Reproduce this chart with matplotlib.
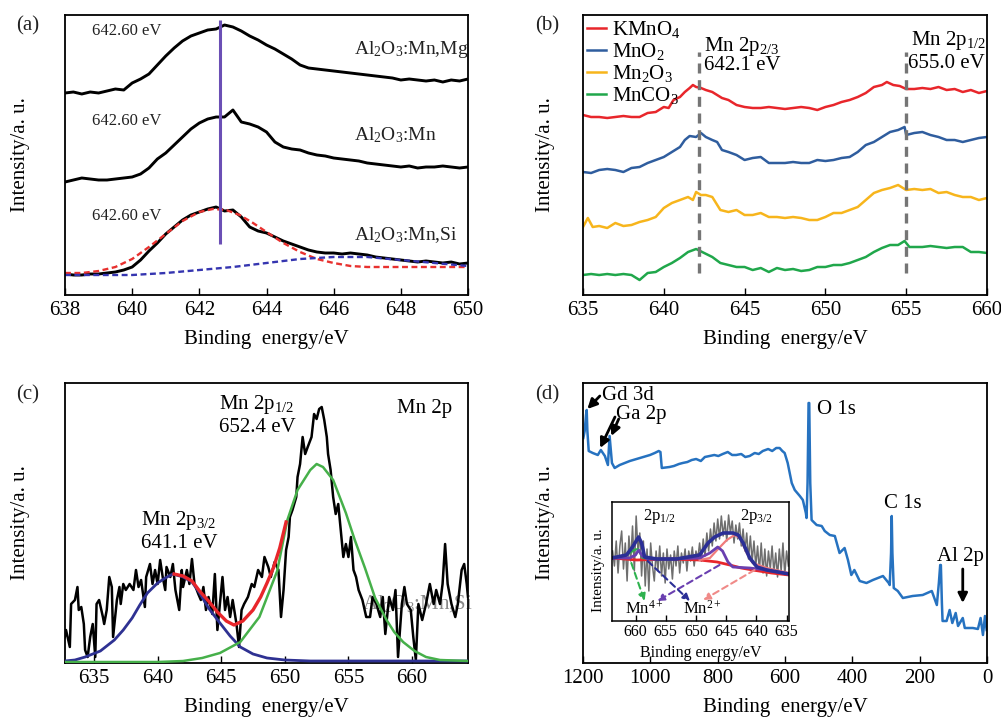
import matplotlib
matplotlib.use('Agg')
import matplotlib.pyplot as plt

plt.rcParams['font.family'] = ['Liberation Serif', 'DejaVu Serif']
plt.rcParams['mathtext.fontset'] = 'custom'
plt.rcParams['mathtext.rm'] = 'Liberation Serif'
plt.rcParams['mathtext.it'] = 'Liberation Serif:italic'

# ---------------- (a) Mn 2p of the three samples ----------------
a_x = [638.00, 638.25, 638.50, 638.75, 639.00, 639.25, 639.50, 639.75, 640.00, 640.25,
       640.50, 640.75, 641.00, 641.25, 641.50, 641.75, 642.00, 642.25, 642.50, 642.75,
       643.00, 643.25, 643.50, 643.75, 644.00, 644.25, 644.50, 644.75, 645.00, 645.25,
       645.50, 645.75, 646.00, 646.25, 646.50, 646.75, 647.00, 647.25, 647.50, 647.75,
       648.00, 648.25, 648.50, 648.75, 649.00, 649.25, 649.50, 649.75, 650.00]
a_mg = [202, 203, 201, 203, 202, 204, 206, 205, 212, 216,
        221, 230, 239, 247, 254, 259, 262, 265, 266, 270,
        268, 264, 259, 255, 250, 246, 241, 236, 230, 227,
        226, 225, 224, 223, 222, 221, 220, 219, 218, 217,
        215, 216, 215, 214, 215, 213, 215, 214, 216]
a_mn = [113, 115, 117, 116, 115, 115, 116, 117, 118, 121,
        127, 136, 142, 150, 158, 166, 172, 176, 178, 178,
        185, 173, 171, 168, 163, 153, 148, 146, 145, 142,
        140, 139, 137, 136, 135, 134, 132, 131, 130, 129,
        128, 129, 127, 128, 128, 129, 128, 127, 128]
a_si = [21, 20, 20, 21, 21, 22, 23, 25, 28, 35,
        44, 52, 61, 68, 75, 80, 83, 86, 88, 84,
        85, 78, 68, 64, 62, 58, 54, 51, 48, 45,
        43, 42, 42, 41, 42, 41, 40, 38, 37, 36,
        35, 34, 33, 34, 33, 32, 33, 31, 32]
a_fit1_x = [638, 638.5, 639, 639.5, 640, 640.5, 641, 641.5, 642, 642.4, 642.8, 643.2,
            643.6, 644, 644.5, 645, 645.5, 646, 646.5, 647, 648, 649, 650]
a_fit1_y = [22, 22, 24, 28, 36, 48, 61, 74, 83, 86, 85, 80,
            72, 63, 52, 43, 36, 32, 29, 28, 28, 28, 28]
a_fit2_x = [638, 639, 640, 641, 642, 643, 644, 645, 645.5, 646, 646.5, 647, 648, 649, 650]
a_fit2_y = [20, 20, 20, 22, 25, 28, 32, 36, 37, 38, 38, 38, 35, 32, 29]
a_peak = 642.63
a_names = ['Al$_2$O$_3$:Mn,Mg', 'Al$_2$O$_3$:Mn', 'Al$_2$O$_3$:Mn,Si']

# ---------------- (b) reference manganese compounds ----------------
b_red_x = [635.0, 635.5, 636.0, 636.5, 637.0, 637.5, 638.0, 638.5, 639.0, 639.5,
           640.0, 640.3, 640.6, 641.0, 641.3, 641.6, 641.8, 642.0, 642.3, 642.6,
           643.0, 643.3, 643.6, 644.0, 644.5, 645.0, 645.5, 646.0, 646.5, 647.0,
           647.5, 648.0, 648.5, 649.0, 649.5, 650.0, 650.5, 651.0, 651.5, 652.0,
           652.5, 653.0, 653.5, 653.8, 654.2, 654.6, 655.0, 655.5, 656.0, 656.5,
           657.0, 657.5, 658.0, 658.5, 659.0, 659.5, 660.0]
b_red_y = [180, 178, 178, 177, 178, 179, 178, 178, 182, 183,
           188, 187, 195, 198, 203, 207, 210, 208, 207, 205,
           203, 200, 197, 195, 190, 188, 187, 187, 188, 187,
           186, 187, 188, 187, 185, 188, 190, 193, 195, 198,
           202, 208, 210, 213, 210, 209, 206, 206, 207, 206,
           208, 205, 206, 203, 205, 202, 204]
b_blue_x = [635.0, 635.5, 636.0, 636.5, 637.0, 637.5, 638.0, 638.5, 639.0, 639.5,
            640.0, 640.5, 641.0, 641.3, 641.6, 642.0, 642.3, 642.6, 643.0, 643.3,
            643.6, 644.0, 644.5, 645.0, 645.5, 646.0, 646.5, 647.0, 647.5, 648.0,
            648.5, 649.0, 649.5, 650.0, 650.5, 651.0, 651.5, 652.0, 652.5, 653.0,
            653.5, 654.0, 654.5, 654.9, 655.0, 655.5, 656.0, 656.5, 657.0, 657.5,
            658.0, 658.5, 659.0, 659.5, 660.0]
b_blue_y = [123, 122, 125, 126, 125, 123, 127, 128, 132, 135,
            138, 143, 148, 155, 159, 158, 162, 158, 155, 153,
            145, 143, 140, 135, 137, 138, 132, 132, 132, 133,
            132, 132, 135, 134, 135, 137, 138, 143, 150, 153,
            158, 163, 165, 168, 160, 162, 163, 160, 158, 155,
            155, 153, 155, 157, 158]
b_yel_x = [635.0, 635.3, 635.6, 636.0, 636.5, 637.0, 637.5, 638.0, 638.5, 639.0,
           639.5, 640.0, 640.5, 641.0, 641.5, 641.8, 642.0, 642.3, 642.6, 643.0,
           643.5, 644.0, 644.5, 645.0, 645.5, 646.0, 646.5, 647.0, 647.5, 648.0,
           648.5, 649.0, 649.5, 650.0, 650.5, 651.0, 651.5, 652.0, 652.5, 653.0,
           653.5, 654.0, 654.5, 655.0, 655.5, 656.0, 656.5, 657.0, 657.5, 658.0,
           658.5, 659.0, 659.5, 660.0]
b_yel_y = [68, 77, 68, 69, 67, 72, 69, 70, 73, 75,
           78, 87, 92, 95, 98, 95, 103, 100, 100, 98,
           85, 83, 85, 80, 80, 82, 78, 78, 77, 78,
           77, 75, 75, 78, 82, 82, 85, 88, 95, 102,
           105, 107, 110, 105, 106, 105, 106, 102, 103, 100,
           98, 98, 95, 97]
b_grn_x = [635.0, 635.5, 636.0, 636.5, 637.0, 637.5, 638.0, 638.5, 639.0, 639.5,
           640.0, 640.5, 641.0, 641.5, 642.0, 642.5, 643.0, 643.5, 644.0, 644.5,
           645.0, 645.5, 646.0, 646.5, 647.0, 647.5, 648.0, 648.5, 649.0, 649.5,
           650.0, 650.5, 651.0, 651.5, 652.0, 652.5, 653.0, 653.5, 654.0, 654.5,
           654.9, 655.2, 655.5, 656.0, 656.5, 657.0, 657.5, 658.0, 658.5, 659.0,
           659.5, 660.0]
b_grn_y = [20, 21, 20, 21, 20, 21, 20, 15, 22, 23,
           28, 32, 37, 43, 46, 42, 38, 32, 30, 28,
           28, 25, 27, 23, 27, 25, 26, 24, 25, 28,
           28, 30, 30, 32, 35, 38, 43, 47, 50, 50,
           54, 48, 48, 48, 49, 48, 47, 48, 48, 43,
           43, 42]
b_labels = ['KMnO$_4$', 'MnO$_2$', 'Mn$_2$O$_3$', 'MnCO$_3$']
b_peaks = [642.2, 655.0]

# ---------------- (c) Mn 2p fit ----------------
c_x = [632.7, 632.8, 633.1, 633.2, 633.5, 633.7, 633.8, 634.0, 634.2, 634.3,
       634.5, 634.7, 634.9, 635.1, 635.2, 635.4, 635.7, 635.8, 636.0, 636.2,
       636.4, 636.5, 636.8, 637.0, 637.1, 637.3, 637.5, 637.8, 638.1, 638.3,
       638.5, 638.7, 639.0, 639.1, 639.4, 639.6, 639.8, 640.0, 640.2, 640.4,
       640.6, 640.7, 641.0, 641.2, 641.4, 641.7, 641.9, 642.0, 642.3, 642.5,
       642.7, 642.9, 643.2, 643.4, 643.6, 643.8, 644.0, 644.3, 644.5, 644.7,
       644.9, 645.1, 645.3, 645.5, 645.7, 645.9, 646.2, 646.4, 646.6, 646.8,
       647.1, 647.4, 647.6, 647.9, 648.2, 648.4, 648.7, 648.9, 649.2, 649.5,
       649.7, 649.9, 650.1, 650.3, 650.4, 650.6, 650.9, 651.0, 651.2, 651.4,
       651.6, 651.8, 652.1, 652.3, 652.5, 652.7, 652.9, 653.1, 653.3, 653.4,
       653.6, 653.8, 654.0, 654.2, 654.4, 654.6, 654.8, 655.0, 655.2, 655.4,
       655.6, 655.8, 656.1, 656.4, 656.7, 656.9, 657.2, 657.5, 657.7, 657.9,
       658.2, 658.5, 658.7, 658.9, 659.2, 659.4, 659.6, 659.9, 660.1, 660.3,
       660.5, 660.8, 661.1, 661.4, 661.7, 661.9, 662.2, 662.4, 662.6, 662.8,
       663.1, 663.4, 663.6, 663.9, 664.1, 664.3, 664.4]
c_y = [26, 33, 16, 59, 63, 76, 53, 56, 39, 13,
       6, 26, 39, 6, 59, 63, 46, 39, 53, 86,
       76, 26, 63, 76, 59, 79, 73, 79, 73, 93,
       76, 83, 56, 86, 99, 79, 93, 79, 103, 86,
       73, 96, 86, 99, 73, 53, 93, 76, 93, 79,
       104, 79, 69, 63, 76, 53, 66, 49, 89, 33,
       59, 86, 53, 66, 46, 63, 39, 16, 53, 59,
       66, 79, 76, 93, 86, 106, 96, 86, 101, 93,
       46, 73, 113, 126, 146, 153, 166, 186, 199, 226,
       209, 216, 226, 249, 244, 254, 256, 243, 226, 209,
       193, 166, 149, 159, 133, 106, 119, 106, 126, 93,
       86, 73, 63, 46, 46, 66, 59, 46, 66, 29,
       66, 53, 73, 6, 59, 76, 59, 53, 26, 3,
       59, 43, 59, 79, 59, 73, 59, 79, 119, 79,
       59, 46, 59, 93, 99, 79, 66]
c_blue_x = [632.7, 633.5, 634.3, 635.5, 636.6, 637.3, 638.0, 638.6, 639.2, 640.0, 640.6,
            641.2, 642.0, 642.7, 643.3, 644.0, 644.9, 645.7, 646.5, 647.5, 648.6, 650.0,
            652.0, 664.4]
c_blue_y = [2, 3, 6, 12, 23, 33, 45, 58, 70, 80, 85,
            89, 86, 81, 70, 55, 40, 27, 16, 9, 5, 3,
            2, 2]
c_grn_x = [632.7, 640.0, 642.0, 643.5, 644.9, 646.5, 648.0, 649.4, 650.2, 651.0, 652.0,
           652.5, 653.0, 653.8, 654.8, 655.5, 656.3, 657.1, 658.0, 658.6, 659.3, 660.2,
           661.1, 662.2, 664.4]
c_grn_y = [1, 1, 2, 5, 10, 21, 46, 92, 143, 173, 193,
           199, 196, 183, 150, 123, 95, 65, 43, 31, 21, 12,
           6, 3, 2]
c_red_x = [641.3, 642.0, 642.7, 643.3, 644.0, 644.7, 645.4, 646.0, 646.7, 647.5, 648.1,
           648.6, 649.1, 649.6, 650.1]
c_red_y = [89, 87, 82, 72, 62, 51, 42, 38, 42, 53, 66,
           80, 95, 115, 141]

# ---------------- (d) survey spectrum ----------------
d_x = [1199, 1195, 1191, 1189, 1187, 1183, 1171, 1156, 1147, 1135, 1126, 1121, 1114,
       1106, 1091, 1061, 1031, 1001, 987, 975, 970, 966, 943, 930, 915, 904, 890,
       877, 864, 850, 838, 824, 810, 798, 785, 770, 757, 745, 730, 718, 705, 690,
       678, 666, 650, 638, 626, 616, 608, 601, 592, 580, 571, 556, 547, 538, 536,
       533, 530, 528, 525, 521, 506, 491, 482, 467, 452, 438, 423, 413, 403, 394,
       378, 358, 339, 309, 292, 289, 285, 283, 281, 277, 265, 250, 221, 191, 164,
       149, 143, 139, 137, 134, 132, 120, 111, 103, 93, 86, 72, 66, 42, 27, 19,
       12, 6, 1]
d_y = [225, 232, 248, 253, 232, 212, 210, 208, 213, 207, 198, 227, 200,
       195, 198, 202, 205, 208, 210, 212, 211, 195, 196, 197, 199, 200, 201,
       203, 204, 202, 206, 207, 208, 207, 209, 211, 208, 208, 209, 206, 207, 210,
       209, 212, 214, 212, 215, 215, 212, 210, 200, 180, 173, 167, 163, 150, 145,
       180, 260, 260, 180, 143, 138, 137, 132, 128, 127, 110, 115, 103, 88, 93,
       82, 80, 83, 87, 80, 78, 110, 147, 110, 75, 72, 65, 67, 68, 72,
       58, 80, 98, 98, 60, 42, 42, 53, 40, 50, 37, 45, 35, 35, 34, 45,
       28, 47, 33]
d_peaks = {'Gd 3d': (1144, 268), 'Ga 2p': (1101, 248), 'O 1s': (506, 253),
           'C 1s': (307, 160), 'Al 2p': (149, 107)}

# ---------------- (d) inset ----------------
i_x = [663.8, 663.5, 663.2, 662.9, 662.6, 662.3, 662.0, 661.7, 661.4, 661.1,
       660.8, 660.5, 660.2, 659.9, 659.6, 659.3, 659.0, 658.7, 658.4, 658.1,
       657.8, 657.5, 657.2, 656.9, 656.6, 656.3, 656.0, 655.7, 655.4, 655.1,
       654.8, 654.5, 654.2, 653.9, 653.6, 653.3, 653.0, 652.7, 652.4, 652.1,
       651.8, 651.5, 651.2, 650.9, 650.6, 650.3, 650.0, 649.7, 649.4, 649.1,
       648.8, 648.5, 648.2, 647.9, 647.6, 647.3, 647.0, 646.7, 646.4, 646.1,
       645.8, 645.5, 645.2, 644.9, 644.6, 644.3, 644.0, 643.7, 643.4, 643.1,
       642.8, 642.5, 642.2, 641.9, 641.6, 641.3, 641.0, 640.7, 640.4, 640.1,
       639.8, 639.5, 639.2, 638.9, 638.6, 638.3, 638.0, 637.7, 637.4, 637.1,
       636.8, 636.5, 636.2, 635.9, 635.6, 635.3, 635.0, 634.7]
i_y = [70, 55, 80, 48, 75, 90, 52, 78, 40, 85,
       60, 95, 50, 105, 70, 88, 45, 80, 35, 72,
       30, 78, 55, 40, 70, 50, 75, 45, 68, 38,
       72, 52, 66, 42, 70, 55, 75, 48, 68, 58,
       72, 50, 70, 60, 74, 55, 70, 62, 78, 60,
       82, 65, 88, 70, 92, 75, 98, 80, 102, 82,
       105, 85, 100, 80, 106, 88, 100, 78, 96, 82,
       98, 75, 92, 70, 88, 62, 85, 60, 80, 55,
       75, 50, 78, 48, 72, 45, 70, 52, 75, 48,
       68, 44, 72, 50, 78, 46, 70, 55]
i_base_x = [663.9, 659.8, 654.4, 649.4, 646.5, 644.4, 642.5, 640.6, 637.5, 634.6]
i_base_y = [63, 61, 62, 61, 59, 56, 53, 51, 48, 46]
i_pink_x = [649.4, 647.7, 646.5, 644.9, 643.6, 642.7, 641.6, 640.6, 638.3, 634.6]
i_pink_y = [61, 63, 71, 81, 86, 83, 68, 58, 53, 48]
i_pur_x = [663.9, 661.0, 660.0, 659.5, 658.9, 658.0, 654.0, 649.4, 647.7, 646.4, 645.6,
           644.7, 643.9, 641.1, 638.3, 634.6]
i_pur_y = [63, 63, 66, 71, 65, 62, 62, 63, 68, 74, 70,
           59, 54, 53, 51, 47]
i_grn_x = [663.9, 662.2, 661.0, 660.2, 659.6, 658.8, 656.5, 653.9]
i_grn_y = [63, 64, 68, 71, 72, 63, 62, 62]
i_navy_x = [663.9, 661.5, 660.5, 659.5, 659.0, 658.5, 656.5, 653.2, 649.4, 648.0, 646.9,
            645.5, 643.9, 643.0, 642.2, 641.1, 639.9, 638.3, 634.6]
i_navy_y = [63, 66, 74, 84, 78, 64, 62, 62, 66, 78, 84,
            88, 88, 86, 78, 63, 54, 51, 47]
# (tail, head, colour) of the dashed assignment arrows
i_arrows = [((660.7, 58), (658.5, 20), '#2fb24f'),
            ((646.1, 56), (656.4, 20), '#6a3fb0'),
            ((658.0, 60), (651.0, 20), '#2b2f96'),
            ((640.3, 51), (648.8, 21), '#f08a88')]

W, H = 1001, 717


def box(l, t, r, b):
    return [l / W, 1 - b / H, (r - l) / W, (b - t) / H]


def style(ax, xlim, ticks, ylim=(0, 280), size=15, tick_len=5, pad=4):
    ax.set_xlim(*xlim)
    ax.set_ylim(*ylim)
    ax.set_xticks(ticks)
    ax.set_yticks([])
    ax.tick_params(axis='x', direction='in', length=tick_len, width=1,
                   labelsize=size, pad=pad, top=False)
    for s in ax.spines.values():
        s.set_linewidth(1.3)


def labels(ax, right_col):
    ax.set_xlabel('Binding  energy/eV', fontsize=15)
    ax.xaxis.set_label_coords(0.5, -0.125)
    ax.set_ylabel('Intensity/a. u.', fontsize=15)
    ax.yaxis.set_label_coords(-0.07 if right_col else -0.088, 0.5)


fig = plt.figure(figsize=(W / 100, H / 100), dpi=100)

# (a)
ax = fig.add_axes(box(65, 15, 468, 295))
for y in (a_mg, a_mn, a_si):
    ax.plot(a_x, y, color='black', lw=2.1)
ax.plot(a_fit1_x, a_fit1_y, color='#e8312f', lw=1.7, ls=(0, (2.5, 1.5)))
ax.plot(a_fit2_x, a_fit2_y, color='#3535b0', lw=1.7, ls=(0, (2.5, 1.5)))
ax.vlines(a_peak, 51, 275, color='#6b4fb5', lw=2.2)
for ty in (264, 174, 79):
    ax.text(639.83, ty, '642.60 eV', fontsize=12, ha='center', va='center', color='#222222')
for name, ty in zip(a_names, (245, 160, 60)):
    ax.text(646.6, ty, name, fontsize=14, ha='left', va='center', color='#222222')
style(ax, (638, 650), range(638, 651, 2))
labels(ax, False)

# (b)
ax = fig.add_axes(box(583, 15, 987, 295))
b_cols = ['#e8262b', '#2f5d9e', '#f7b51c', '#20a74b']
for xs, ys, c, lab in zip((b_red_x, b_blue_x, b_yel_x, b_grn_x),
                          (b_red_y, b_blue_y, b_yel_y, b_grn_y), b_cols, b_labels):
    ax.plot(xs, ys, color=c, lw=1.8, label=lab)
ax.vlines(b_peaks, 22, 243, color='#757575', lw=2.4, ls=(0, (3, 2)))
ax.text(642.5, 248, r'Mn 2p$_{\mathrm{2/3}}$', fontsize=15, va='center')
ax.text(642.5, 229, '642.1 eV', fontsize=15, va='center')
ax.text(655.3, 254, r'Mn 2p$_{\mathrm{1/2}}$', fontsize=15, va='center')
ax.text(655.1, 232, '655.0 eV', fontsize=15, va='center')
ax.legend(loc='upper left', bbox_to_anchor=(0.0, 1.0), frameon=False, fontsize=15,
          handlelength=0.9, handletextpad=0.3, labelspacing=0.05, borderpad=0.1,
          borderaxespad=0.1)
style(ax, (635, 660), range(635, 661, 5))
labels(ax, True)

# (c)
ax = fig.add_axes(box(65, 383, 468, 663))
ax.text(656.1, 59, 'Al$_2$O$_3$:Mn,Si', fontsize=15, color='#8a8a8a', va='center', zorder=1)
ax.plot(c_x, c_y, color='black', lw=1.8, zorder=3)
ax.plot(c_blue_x, c_blue_y, color='#2e3192', lw=2, zorder=4)
ax.plot(c_grn_x, c_grn_y, color='#46b04a', lw=1.8, zorder=4)
ax.plot(c_red_x, c_red_y, color='#e8262b', lw=2.4, zorder=5)
ax.text(644.8, 259, r'Mn 2p$_{\mathrm{1/2}}$', fontsize=15, va='center')
ax.text(644.8, 235, '652.4 eV', fontsize=15, va='center')
ax.text(658.8, 254, 'Mn 2p', fontsize=15, va='center')
ax.text(638.7, 143, r'Mn 2p$_{\mathrm{3/2}}$', fontsize=15, va='center')
ax.text(638.7, 120, '641.1 eV', fontsize=15, va='center')
style(ax, (632.72, 664.4), range(635, 661, 5))
labels(ax, False)

# (d)
ax = fig.add_axes(box(583, 383, 987, 663))
ax.plot(d_x, d_y, color='#2672c0', lw=1.8)
for name, (tx, ty) in d_peaks.items():
    ax.text(tx, ty, name, fontsize=15, va='center', ha='left')
arrow = dict(arrowstyle='-|>', color='black', lw=2, mutation_scale=14, shrinkA=0, shrinkB=0)
ax.annotate('', xy=(1187, 254), xytext=(1150, 267), arrowprops=arrow)
ax.annotate('', xy=(1149, 215), xytext=(1105, 246), arrowprops=arrow)
ax.annotate('', xy=(1116, 227), xytext=(1094, 244), arrowprops=arrow)
ax.annotate('', xy=(72, 60), xytext=(72, 94), arrowprops=arrow)
style(ax, (1200, 0), range(1200, -1, -200))
labels(ax, True)

# inset
ins = fig.add_axes(box(612, 502, 789, 621))
ins.plot(i_x, i_y, color='#6e6e6e', lw=1.1)
ins.plot(i_base_x, i_base_y, color='#e8262b', lw=2)
ins.plot(i_pink_x, i_pink_y, color='#f07c7c', lw=1.6)
ins.plot(i_grn_x, i_grn_y, color='#2fb24f', lw=1.6)
ins.plot(i_pur_x, i_pur_y, color='#6a3fb0', lw=2)
ins.plot(i_navy_x, i_navy_y, color='#2b2f96', lw=2.6)
for tail, head, c in i_arrows:
    ins.annotate('', xy=head, xytext=tail,
                 arrowprops=dict(arrowstyle='-|>', color=c, lw=1.5, ls=(0, (3, 2)),
                                 mutation_scale=10, shrinkA=0, shrinkB=0))
ins.text(658.6, 12, 'Mn$^{4+}$', fontsize=12, ha='center', va='center')
ins.text(649.0, 12, 'Mn$^{2+}$', fontsize=12, ha='center', va='center')
ins.text(658.8, 105, r'2p$_{\mathrm{1/2}}$', fontsize=12, va='center')
ins.text(642.7, 104, r'2p$_{\mathrm{3/2}}$', fontsize=12, va='center')
style(ins, (663.9, 634.6), range(660, 634, -5), ylim=(0, 119), size=11.5, tick_len=4, pad=2)
for s in ins.spines.values():
    s.set_linewidth(1.1)
ins.set_xlabel('Binding energy/eV', fontsize=11.5)
ins.xaxis.set_label_coords(0.5, -0.2)
ins.set_ylabel('Intensity/a. u.', fontsize=11)
ins.yaxis.set_label_coords(-0.04, 0.43)

for lab, px, py in (('(a)', 28, 26), ('(b)', 547, 26), ('(c)', 28, 395), ('(d)', 547, 395)):
    fig.text(px / W, 1 - py / H, lab, fontsize=15, ha='center', va='center', color='#222222')

fig.savefig('out.png', dpi=100)
